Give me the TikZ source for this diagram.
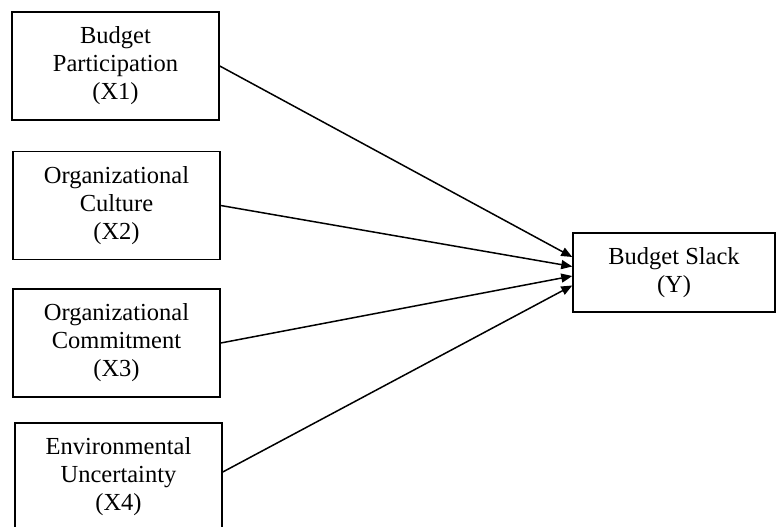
\documentclass[tikz,border=0pt]{standalone}
\usepackage{fontspec}
\setmainfont{Liberation Serif}
\usepackage{tikz}
\usetikzlibrary{positioning,arrows.meta,calc}

\begin{document}
\begin{tikzpicture}[x=1pt,y=-1pt,
    font=\fontsize{24.5}{28}\selectfont,
    varbox/.style={draw, line width=1.5pt, align=center, inner sep=0pt,
        minimum width=207pt, minimum height=108pt},
    ybox/.style={draw, line width=1.5pt, align=center, inner sep=0pt,
        minimum width=202pt, minimum height=79pt},
    effect/.style={line width=1.5pt, -{Triangle[length=11pt,width=9pt]}}]
\useasboundingbox (0,0) rectangle (776,527);

% independent variables
\node[varbox] (x1) at (115.5,66) {Budget\\ Participation\\ (X1)};
\node[varbox] (x2) at (116.5,205.5) {Organizational\\ Culture\\ (X2)};
\node[varbox] (x3) at (116.5,343) {Organizational\\ Commitment\\ (X3)};
\node[varbox] (x4) at (118.5,477) {Environmental\\ Uncertainty\\ (X4)};

% dependent variable
\node[ybox] (y) at (674,272.5) {Budget Slack\\ (Y)};

% paths
\draw[effect] (x1.east) -- ([yshift=15.5pt]y.west);
\draw[effect] (x2.east) -- ([yshift=6pt]y.west);
\draw[effect] (x3.east) -- ([yshift=-3.5pt]y.west);
\draw[effect] ([yshift=5pt]x4.east) -- ([yshift=-13pt]y.west);
\end{tikzpicture}
\end{document}
